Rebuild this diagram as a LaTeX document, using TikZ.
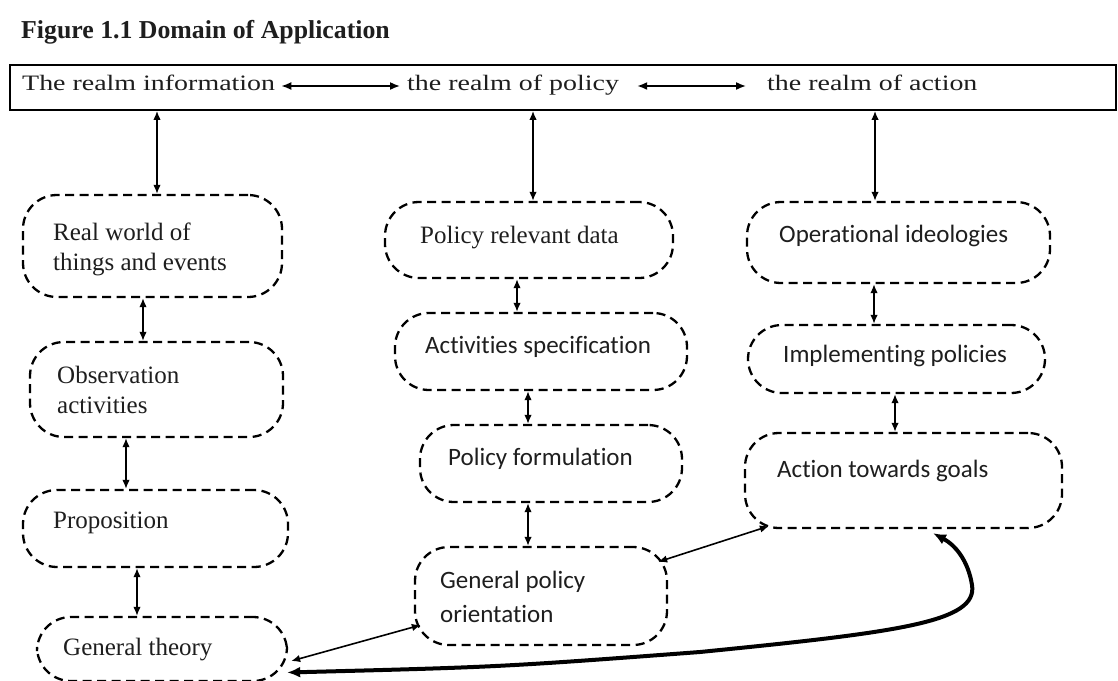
\documentclass[tikz,border=0pt]{standalone}
\usepackage{fontspec}
\setmainfont{Liberation Serif}
\newfontfamily\topfont{Liberation Serif}[FakeStretch=1.27]
\newfontfamily\calfont{Carlito}[Ligatures=NoCommon]
\usetikzlibrary{arrows.meta}
\definecolor{ink}{HTML}{1E1E1E}
\begin{document}
\begin{tikzpicture}[x=1pt,y=-1pt,
  dbox/.style={draw, line width=2.3pt, dash pattern=on 9pt off 5.5pt, rounded corners=34pt, inner sep=0pt},
  serift/.style={anchor=base west, inner sep=0pt, align=left, text=ink, font=\fontsize{25}{30}\selectfont},
  sanst/.style={anchor=base west, inner sep=0pt, align=left, text=ink, font=\calfont\fontsize{25}{34}\selectfont},
  topt/.style={anchor=base west, inner sep=0pt, text=ink, font=\topfont\fontsize{22}{26}\selectfont},
  darr/.style={line width=1.6pt, {Latex[length=9pt,width=7.5pt]}-{Latex[length=9pt,width=7.5pt]}},
  harr/.style={line width=1.6pt, {Latex[length=10pt,width=8pt]}-{Latex[length=10pt,width=8pt]}},
  thick arr/.style={line width=4pt, {Latex[length=13pt,width=11pt]}-{Latex[length=13pt,width=11pt]}}
]
\useasboundingbox[fill=white] (0,0) rectangle (1118,680);

% title
\node[anchor=base west, inner sep=0pt, font=\bfseries\fontsize{25.8}{30}\selectfont, text=ink] (title) at (21,38) {Figure 1.1 Domain of Application};

% top realm box
\node[draw, line width=1.8pt, minimum width=1106pt, minimum height=45pt, inner sep=0pt] (top) at (563,87.5) {};
\node[topt] (rinfo) at (22,90) {The realm information};
\node[topt] (rpol) at (407,90) {the realm of policy};
\node[topt] (ract) at (767,90) {the realm of action};
\draw[harr] ([xshift=6pt,yshift=4pt]rinfo.base east) -- ([xshift=-7pt,yshift=4pt]rpol.base west);
\draw[harr] ([xshift=18pt,yshift=4pt]rpol.base east) -- ([xshift=-21pt,yshift=4pt]ract.base west);

% left column
\node[dbox, minimum width=259pt, minimum height=102pt] (rw) at (152.5,246) {};
\node[dbox, minimum width=253pt, minimum height=95pt] (obs) at (156.5,389.5) {};
\node[dbox, minimum width=265pt, minimum height=77pt] (prop) at (155.5,528.5) {};
\node[dbox, minimum width=250pt, minimum height=64pt] (gt) at (162,649) {};
\node[serift] (rwt) at (53,270) {Real world of\\things and events};
\node[serift] (obst) at (57,413) {Observation\\activities};
\node[serift] (propt) at (53,528) {Proposition};
\node[serift] (gtt) at (63,655) {General theory};

% middle column
\node[dbox, minimum width=288pt, minimum height=76pt] (prd) at (529,240) {};
\node[dbox, minimum width=292pt, minimum height=77pt] (as) at (541,351.5) {};
\node[dbox, minimum width=262pt, minimum height=77pt] (pf) at (551,463.5) {};
\node[dbox, minimum width=252pt, minimum height=98pt] (gpo) at (541,596) {};
\node[serift] (prdt) at (420,243) {Policy relevant data};
\node[sanst] (ast) at (425,353) {Activities specification};
\node[sanst] (pft) at (448,465) {Policy formulation};
\node[sanst] (gpot) at (440,622) {General policy\\orientation};

% right column
\node[dbox, minimum width=303pt, minimum height=81pt] (oi) at (898.5,242.5) {};
\node[dbox, minimum width=297pt, minimum height=68pt] (ip) at (896.5,359) {};
\node[dbox, minimum width=317pt, minimum height=95pt] (atg) at (903.5,480.5) {};
\node[sanst] (oit) at (779,242) {Operational ideologies};
\node[sanst] (ipt) at (783,362) {Implementing policies};
\node[sanst] (atgt) at (777,477) {Action towards goals};

% vertical connectors
\draw[darr] ([xshift=4.5pt]rw.north) -- ([xshift=4.5pt]rw.north |- top.south);
\draw[darr] ([xshift=-9.5pt]rw.south) -- ([xshift=-13.5pt]obs.north);
\draw[darr] ([xshift=-30.5pt]obs.south) -- ([xshift=-29.5pt]prop.north);
\draw[darr] ([xshift=-18.5pt]prop.south) -- ([xshift=-25pt]gt.north);

\draw[darr] ([xshift=4pt]prd.north) -- ([xshift=4pt]prd.north |- top.south);
\draw[darr] ([xshift=-12pt]prd.south) -- ([xshift=-24pt]as.north);
\draw[darr] ([xshift=-13pt]as.south) -- ([xshift=-23pt]pf.north);
\draw[darr] ([xshift=-23pt]pf.south) -- ([xshift=-13pt]gpo.north);

\draw[darr] ([xshift=-23.5pt]oi.north) -- ([xshift=-23.5pt]oi.north |- top.south);
\draw[darr] ([xshift=-24.5pt]oi.south) -- ([xshift=-22.5pt]ip.north);
\draw[darr] ([xshift=-1.5pt]ip.south) -- ([xshift=-8.5pt]atg.north);

% diagonal connectors
\draw[darr] ([xshift=3pt,yshift=-12pt]gt.east) -- ([xshift=7pt,yshift=-29pt]gpo.west);
\draw[darr] ([xshift=-10pt,yshift=-16pt]gpo.north east) -- ([xshift=25pt,yshift=3pt]atg.south west);

% thick curved connector
\draw[thick arr] ([xshift=-1pt,yshift=-23.5pt]gt.east)
  .. controls (500,667) .. (700,652)
  .. controls (900,632) and (978,622) .. (972,585)
  .. controls (968,560) and (955,545) .. ([xshift=29.5pt,yshift=-4pt]atg.south);
\end{tikzpicture}
\end{document}
